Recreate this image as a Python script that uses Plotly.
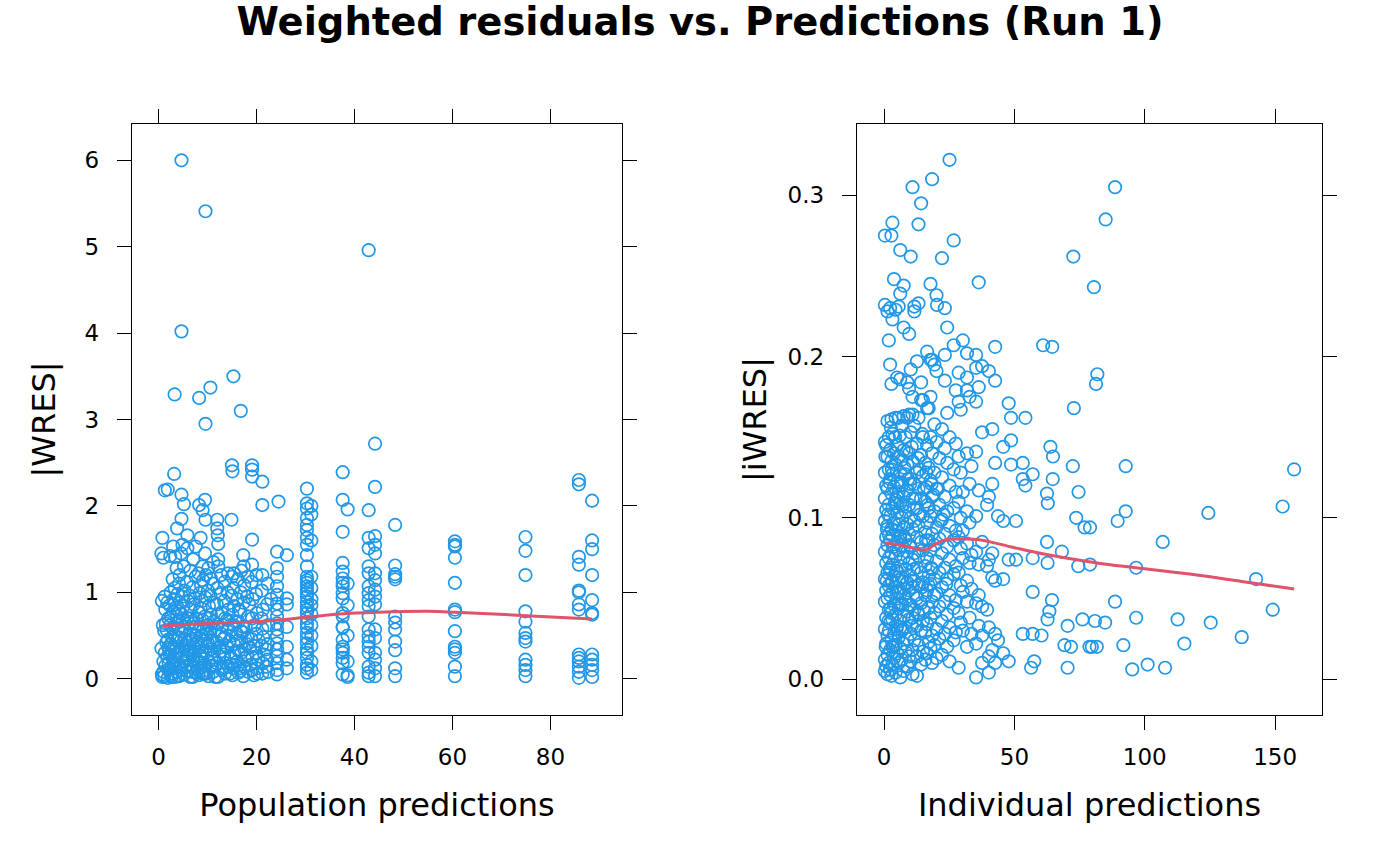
"""Weighted residuals vs. predictions (Run 1) - |WRES| and |iWRES| panels."""

import plotly.graph_objects as go

FONT = "DejaVu Sans"
POINT_COLOR = "#2297E6"
SMOOTH_COLOR = "#DF536B"

# left panel: population predictions vs |WRES|
POP_PRED = [
    0.8, 0.6, 1.0, 0.7, 0.9, 0.6, 1.0, 0.7, 0.8,
    1.3, 1.3, 1.4, 1.2, 1.3, 1.4, 1.2,
    1.9, 1.8, 2.0, 1.9, 1.8, 2.0, 1.9,
    2.4, 2.5, 2.3, 2.4, 2.5, 2.3, 2.4, 2.5,
    3.0, 2.9, 3.1, 3.0, 2.9, 3.1, 3.0, 2.9,
    3.3, 3.2, 3.4, 3.3, 3.4, 3.2, 3.3, 3.4,
    3.8, 3.7, 3.9, 3.8, 3.7, 3.9, 3.8,
    4.3, 4.2, 4.4, 4.3, 4.2, 4.4, 4.3, 4.2,
    4.7, 4.7, 4.7, 4.7, 4.9, 4.6, 4.8, 4.7, 4.6, 4.8, 4.7,
    5.2, 5.2, 5.3, 5.1, 5.2, 5.3, 5.1, 5.2,
    5.9, 5.9, 5.8, 6.0, 5.9, 5.8, 6.0, 5.9,
    6.5, 6.4, 6.6, 6.5, 6.4, 6.6, 6.5,
    7.1, 7.0, 7.2, 7.1, 7.0, 7.2, 7.1,
    7.6, 7.6, 7.5, 7.7, 7.6, 7.5, 7.7,
    8.3, 8.3, 8.2, 8.4, 8.3, 8.2, 8.4, 8.3, 8.2,
    8.6, 8.7, 8.6, 8.7, 8.6, 8.7,
    9.0, 9.0, 9.1, 8.9, 9.0, 9.1, 8.9, 9.0,
    9.6, 9.6, 9.5, 9.6, 9.5, 9.7, 9.6, 9.5, 9.7, 9.6, 9.5,
    10.2, 10.1, 10.3, 10.2, 10.1, 10.3, 10.2,
    10.6, 10.7, 10.6, 10.7, 10.6, 10.7, 10.6,
    11.2, 11.1, 11.3, 11.2, 11.1, 11.3, 11.2,
    12.0, 12.0, 12.1, 12.2, 12.2, 12.2, 12.0, 11.9, 12.1, 12.0, 11.9, 12.1,
    12.8, 12.7, 12.9, 12.8, 12.7, 12.9,
    13.5, 13.4, 13.6, 13.5, 13.4, 13.6,
    14.2, 14.1, 14.3, 14.2, 14.1, 14.3,
    15.0, 15.1, 14.9, 15.0, 14.9, 15.1, 15.0, 14.9, 15.1,
    15.3, 15.4, 15.3, 15.4, 15.3, 15.4, 15.3,
    16.2, 16.1, 16.3, 16.2, 16.1, 16.3,
    16.8, 16.9, 16.8, 16.7, 16.8, 16.9, 16.7,
    17.3, 17.4, 17.5, 17.4, 17.3, 17.5, 17.4, 17.3,
    18.2, 18.1, 18.3, 18.2, 18.1, 18.3,
    19.1, 19.1, 19.1, 19.1, 19.1, 19.0, 19.2, 19.1, 19.0, 19.2, 19.1,
    20.0, 19.9, 20.1, 20.0, 19.9, 20.1,
    21.2, 21.2, 21.2, 21.1, 21.3, 21.2, 21.1, 21.3, 21.2,
    22.3, 22.2, 22.4, 22.3, 22.2, 22.4,
    24.5, 24.2, 24.2, 24.2, 24.2, 24.2, 24.2, 24.2, 24.2, 24.2, 24.2, 24.2,
    24.2, 24.2, 24.2, 24.2, 24.2, 24.2,
    26.2, 26.2, 26.2, 26.2, 26.2, 26.2, 26.2,
    30.3, 30.3, 30.3, 30.3, 30.3, 30.3, 30.3, 30.3, 30.3, 30.3, 30.3,
    30.3, 30.3, 30.3, 30.3, 30.3, 30.3, 30.3, 30.3, 30.3, 30.3, 30.3,
    30.3, 30.3, 30.3, 30.3, 30.3, 30.3, 30.3, 30.3, 30.3, 30.3, 30.3,
    31.2, 31.2, 31.2, 31.2, 31.2, 31.2, 31.2, 31.2, 31.2, 31.2, 31.2, 31.2, 31.2,
    37.6, 37.6, 37.6, 37.6, 37.6, 37.6, 37.6, 37.6, 37.6, 37.6, 37.6,
    37.6, 37.6, 37.6, 37.6, 37.6, 37.6, 37.6, 37.6, 37.6, 37.6,
    38.6, 38.6, 38.6, 38.6, 38.6, 38.6, 38.6,
    42.9, 42.9, 42.9, 42.9, 42.9, 42.9, 42.9, 42.9, 42.9, 42.9,
    42.9, 42.9, 42.9, 42.9, 42.9, 42.9, 42.9, 42.9, 42.9,
    44.2, 44.2, 44.2, 44.2, 44.2, 44.2, 44.2, 44.2,
    44.2, 44.2, 44.2, 44.2, 44.2, 44.2, 44.2, 44.2,
    48.3, 48.3, 48.3, 48.3, 48.3, 48.3, 48.3, 48.3, 48.3, 48.3, 48.3, 48.3,
    60.5, 60.5, 60.5, 60.5, 60.5, 60.5, 60.5, 60.5, 60.5, 60.5, 60.5, 60.5, 60.5,
    74.9, 74.9, 74.9, 74.9, 74.9, 74.9, 74.9, 74.9, 74.9, 74.9, 74.9, 74.9,
    85.8, 85.8, 85.8, 85.8, 85.8, 85.8, 85.8, 85.8, 85.8, 85.8, 85.8, 85.8, 85.8, 85.8,
    88.5, 88.5, 88.5, 88.5, 88.5, 88.5, 88.5, 88.5, 88.5, 88.5, 88.5, 88.5,
    # low-residual core, x 1-23
    1.6, 2.1, 2.6, 3.5, 4.0, 4.5, 5.5, 6.2, 6.8, 7.3, 7.9, 8.8, 9.3, 9.9, 10.4,
    11.0, 11.6, 12.4, 13.1, 13.8, 14.5, 15.5, 16.0, 16.6, 17.0, 17.8, 18.6, 19.5, 20.5, 21.6,
    1.0, 1.7, 2.2, 2.8, 3.6, 4.1, 4.8, 5.4, 6.0, 6.6, 7.2, 7.8, 8.5, 9.2, 9.8,
    10.5, 11.4, 12.2, 13.0, 13.9, 14.8, 15.7, 16.4, 17.2, 18.0, 18.8, 19.6, 20.4, 21.4, 22.0,
    1.5, 2.0, 2.7, 3.4, 4.1, 4.6, 5.0, 5.7, 6.3, 7.0, 7.4, 8.0, 8.8, 9.4, 10.0,
    10.8, 11.6, 12.5, 13.3, 14.0, 14.6, 15.6, 16.4, 17.6, 18.5, 19.4, 20.2, 21.0, 22.0, 23.0,
]
ABS_WRES = [
    1.63, 1.45, 1.40, 0.90, 0.62, 0.35, 0.20, 0.05, 0.02,
    2.18, 0.95, 0.80, 0.55, 0.30, 0.15, 0.03,
    2.19, 0.88, 0.70, 0.45, 0.25, 0.10, 0.01,
    1.42, 1.00, 0.85, 0.62, 0.40, 0.28, 0.12, 0.04,
    1.53, 1.15, 0.92, 0.78, 0.58, 0.35, 0.18, 0.06,
    3.29, 2.37, 1.41, 1.05, 0.82, 0.50, 0.22, 0.02,
    1.74, 1.28, 0.98, 0.72, 0.44, 0.30, 0.08,
    1.20, 1.10, 0.88, 0.66, 0.48, 0.32, 0.14, 0.03,
    6.00, 4.02, 2.13, 1.85, 1.55, 1.45, 0.95, 0.75, 0.55, 0.26, 0.10,
    2.02, 1.30, 1.02, 0.84, 0.60, 0.38, 0.20, 0.05,
    1.66, 1.51, 1.12, 0.90, 0.70, 0.42, 0.24, 0.09,
    1.25, 0.96, 0.80, 0.52, 0.33, 0.16, 0.02,
    1.38, 1.06, 0.86, 0.64, 0.46, 0.27, 0.12,
    1.53, 1.18, 0.93, 0.70, 0.50, 0.31, 0.07,
    3.25, 2.01, 1.22, 0.99, 0.77, 0.56, 0.36, 0.19, 0.04,
    1.63, 1.08, 0.82, 0.60, 0.40, 0.13,
    1.95, 1.30, 1.14, 0.90, 0.68, 0.45, 0.23, 0.06,
    5.41, 2.95, 2.07, 1.84, 1.45, 1.20, 0.94, 0.72, 0.52, 0.30, 0.10,
    1.28, 1.02, 0.84, 0.62, 0.41, 0.20, 0.03,
    3.37, 1.16, 0.96, 0.74, 0.54, 0.34, 0.15,
    1.35, 1.10, 0.88, 0.66, 0.44, 0.25, 0.08,
    1.84, 1.74, 1.66, 1.56, 1.38, 1.30, 1.05, 0.86, 0.63, 0.42, 0.18, 0.02,
    1.20, 0.98, 0.76, 0.52, 0.32, 0.10,
    1.12, 0.90, 0.70, 0.48, 0.28, 0.06,
    1.22, 1.00, 0.80, 0.58, 0.36, 0.14,
    2.47, 2.40, 1.84, 1.18, 0.96, 0.74, 0.50, 0.24, 0.04,
    3.50, 1.22, 1.05, 0.84, 0.62, 0.40, 0.12,
    1.15, 0.92, 0.66, 0.44, 0.20, 0.07,
    3.10, 1.25, 1.00, 0.78, 0.55, 0.30, 0.09,
    1.43, 1.30, 1.08, 0.88, 0.60, 0.34, 0.14, 0.03,
    1.18, 0.95, 0.72, 0.48, 0.26, 0.08,
    2.47, 2.42, 2.34, 1.61, 1.32, 1.12, 0.92, 0.70, 0.46, 0.25, 0.10,
    1.20, 0.98, 0.76, 0.52, 0.30, 0.12,
    2.28, 2.01, 1.20, 1.02, 0.80, 0.58, 0.38, 0.18, 0.06,
    1.10, 0.86, 0.62, 0.40, 0.22, 0.08,
    2.05, 1.47, 1.28, 1.18, 1.07, 0.97, 0.87, 0.80, 0.72, 0.64, 0.57, 0.49,
    0.41, 0.34, 0.26, 0.18, 0.10, 0.05,
    1.43, 0.93, 0.86, 0.60, 0.37, 0.22, 0.12,
    2.20, 2.03, 1.97, 1.86, 1.78, 1.72, 1.63, 1.55, 1.43, 1.30, 1.18,
    1.14, 1.11, 1.07, 1.03, 0.99, 0.95, 0.89, 0.84, 0.80, 0.76, 0.70,
    0.64, 0.59, 0.53, 0.47, 0.41, 0.34, 0.30, 0.24, 0.16, 0.12, 0.07,
    2.00, 1.90, 1.60, 1.18, 1.05, 0.92, 0.85, 0.75, 0.62, 0.50, 0.38, 0.20, 0.10,
    2.39, 2.07, 1.70, 1.34, 1.24, 1.16, 1.11, 1.07, 0.99, 0.93, 0.76,
    0.72, 0.60, 0.59, 0.45, 0.37, 0.34, 0.30, 0.24, 0.18, 0.05,
    1.96, 1.10, 0.85, 0.50, 0.20, 0.04, 0.02,
    4.96, 1.95, 1.63, 1.51, 1.30, 1.22, 1.07, 0.99, 0.91, 0.84,
    0.72, 0.57, 0.49, 0.43, 0.37, 0.30, 0.14, 0.07, 0.03,
    2.72, 2.22, 1.65, 1.55, 1.45, 1.22, 1.14, 1.03,
    0.95, 0.86, 0.57, 0.47, 0.30, 0.22, 0.12, 0.03,
    1.78, 1.31, 1.21, 1.18, 1.15, 0.72, 0.65, 0.57, 0.43, 0.33, 0.12, 0.03,
    1.59, 1.55, 1.53, 1.40, 1.11, 0.80, 0.77, 0.55, 0.37, 0.34, 0.30, 0.14, 0.03,
    1.64, 1.48, 1.20, 0.78, 0.66, 0.53, 0.47, 0.43, 0.22, 0.16, 0.10, 0.03,
    2.30, 2.25, 1.41, 1.32, 1.02, 1.00, 0.86, 0.80, 0.28, 0.24, 0.20, 0.14, 0.08, 0.01,
    2.06, 1.60, 1.50, 1.20, 0.91, 0.76, 0.74, 0.28, 0.22, 0.16, 0.10, 0.02,
    # low-residual core, x 1-23
    0.42, 0.18, 0.72, 0.12, 0.58, 0.24, 0.46, 0.64, 0.08, 0.36, 0.22, 0.50, 0.16, 0.38, 0.70,
    0.14, 0.56, 0.26, 0.62, 0.18, 0.44, 0.30, 0.52, 0.12, 0.42, 0.60, 0.36, 0.04, 0.44, 0.28,
    0.08, 0.56, 0.34, 0.48, 0.64, 0.04, 0.36, 0.14, 0.28, 0.70, 0.20, 0.42, 0.26, 0.58, 0.06,
    0.44, 0.32, 0.74, 0.12, 0.38, 0.16, 0.66, 0.32, 0.54, 0.40, 0.16, 0.62, 0.22, 0.48, 0.34,
    0.64, 0.36, 0.02, 0.28, 0.78, 0.44, 0.68, 0.32, 0.44, 0.02, 0.60, 0.10, 0.32, 0.06, 0.52,
    0.24, 0.02, 0.36, 0.46, 0.68, 0.06, 0.16, 0.80, 0.24, 0.86, 0.38, 0.06, 0.70, 0.14, 0.92,
]
SMOOTH_POP_X = [0.8, 10.0, 20.0, 30.0, 37.0, 45.0, 55.0, 60.5, 75.0, 88.5]
SMOOTH_POP_Y = [0.61, 0.64, 0.66, 0.71, 0.75, 0.77, 0.78, 0.77, 0.73, 0.69]

# right panel: individual predictions vs |iWRES|
IND_PRED = [
    0.3, 0.3, 0.3, 0.3, 0.3, 0.3, 0.3, 0.3, 0.3, 0.3, 0.3, 0.3,
    0.8, 0.8, 0.8, 0.8, 0.8, 0.8, 0.8, 0.8, 0.8,
    1.3, 1.3, 1.3, 1.3, 1.3, 1.3, 1.3, 1.3, 1.3, 1.3, 1.3,
    1.8, 1.8, 1.8, 1.8, 1.8, 1.8, 1.8, 1.8, 1.8, 1.8,
    2.3, 2.3, 2.3, 2.3, 2.3, 2.3, 2.3, 2.3, 2.3, 2.3, 2.3,
    2.8, 2.8, 2.8, 2.8, 2.8, 2.8, 2.8, 2.8, 2.8, 2.8, 2.8,
    3.2, 3.2, 3.2, 3.2, 3.2, 3.2, 3.2, 3.2, 3.2, 3.2, 3.2,
    3.8, 3.8, 3.8, 3.8, 3.8, 3.8, 3.8, 3.8, 3.8,
    4.4, 4.4, 4.4, 4.4, 4.4, 4.4, 4.4, 4.4, 4.4, 4.4,
    5.0, 5.0, 5.0, 5.0, 5.0, 5.0, 5.0, 5.0, 5.0,
    5.6, 5.6, 5.6, 5.6, 5.6, 5.6, 5.6, 5.6, 5.6, 5.6,
    6.2, 6.2, 6.2, 6.2, 6.2, 6.2, 6.2, 6.2, 6.2, 6.2, 6.2,
    6.8, 6.8, 6.8, 6.8, 6.8, 6.8, 6.8, 6.8, 6.8,
    7.5, 7.5, 7.5, 7.5, 7.5, 7.5, 7.5, 7.5, 7.5, 7.5, 7.5,
    8.2, 8.2, 8.2, 8.2, 8.2, 8.2, 8.2, 8.2,
    8.9, 8.9, 8.9, 8.9, 8.9, 8.9, 8.9, 8.9, 8.9, 8.9,
    9.6, 9.6, 9.6, 9.6, 9.6, 9.6, 9.6, 9.6, 9.6, 9.6,
    10.2, 10.2, 10.2, 10.2, 10.2, 10.2, 10.2, 10.2, 10.2, 10.2,
    10.9, 10.9, 10.9, 10.9, 10.9, 10.9, 10.9, 10.9, 10.9, 10.9, 10.9,
    11.6, 11.6, 11.6, 11.6, 11.6, 11.6, 11.6, 11.6, 11.6,
    12.6, 12.6, 12.6, 12.6, 12.6, 12.6, 12.6, 12.6, 12.6, 12.6,
    13.2, 13.2, 13.2, 13.2, 13.2, 13.2, 13.2, 13.2, 13.2,
    14.2, 14.2, 14.2, 14.2, 14.2, 14.2, 14.2, 14.2, 14.2, 14.2,
    14.9, 14.9, 14.9, 14.9, 14.9, 14.9, 14.9, 14.9,
    15.8, 15.8, 15.8, 15.8, 15.8, 15.8, 15.8,
    16.5, 16.5, 16.5, 16.5, 16.5, 16.5, 16.5, 16.5, 16.5,
    17.1, 17.1, 17.1, 17.1, 17.1, 17.1, 17.1,
    17.8, 17.8, 17.8, 17.8, 17.8, 17.8, 17.8, 17.8, 17.8, 17.8,
    18.4, 18.4, 18.4, 18.4, 18.4, 18.4, 18.4, 18.4, 18.4,
    19.3, 19.3, 19.3, 19.3, 19.3, 19.3, 19.3, 19.3,
    20.1, 20.3, 20.1, 20.1, 20.1, 20.1, 20.1, 20.1, 20.1, 20.1,
    21.2, 21.2, 21.2, 21.2, 21.2, 21.2,
    22.2, 22.2, 22.2, 22.2, 22.2, 22.2, 22.2, 22.2,
    23.3, 23.3, 23.3, 23.3, 23.3, 23.3, 23.3, 23.3, 23.3,
    24.2, 24.2, 24.2, 24.2, 24.2, 24.2, 24.2, 24.2,
    25.1, 25.1, 25.1, 25.1, 25.1, 25.1, 25.1, 25.1,
    26.7, 26.7, 26.7, 26.7, 26.7, 26.7, 26.7, 26.7,
    27.5, 27.5, 27.5, 27.5, 27.5, 27.5, 27.5,
    28.6, 28.6, 28.6, 28.6, 28.6, 28.6, 28.6, 28.6,
    29.4, 29.4, 29.4, 29.4, 29.4, 29.4,
    30.2, 30.2, 30.2, 30.2, 30.2, 30.2,
    31.8, 31.8, 31.8, 31.8, 31.8, 31.8, 31.8, 31.8, 31.8,
    32.8, 32.8, 32.8, 32.8, 32.8,
    33.5, 33.5, 33.5, 33.5,
    35.3, 35.3, 35.3, 35.3, 35.3, 35.3, 35.3, 35.3, 35.3,
    36.3, 36.3, 36.3, 36.3, 36.3, 36.3,
    37.6, 37.6, 37.6, 37.6, 37.6, 37.6,
    39.5, 39.5, 39.5,
    40.2, 40.2, 40.2, 40.2, 40.2, 40.2,
    41.5, 41.5, 41.5, 41.5, 41.5,
    42.6, 42.6, 42.6, 42.6, 42.6, 42.6,
    43.7, 43.7,
    45.7, 45.7, 45.7, 45.7,
    47.8, 47.8, 47.8,
    48.7, 48.7, 48.7,
    50.6, 50.6,
    53.2, 53.2, 53.2,
    54.2, 54.2,
    57.0, 57.0, 57.0, 57.0, 57.6, 56.4,
    60.4, 61.0,
    62.5, 62.8, 62.5, 62.7, 63.4, 62.7,
    64.5, 63.8, 64.8, 64.7, 64.4,
    68.2, 69.2,
    70.4, 70.4, 71.7,
    72.6, 72.8, 72.4,
    74.6, 73.7, 74.5,
    76.9, 76.1, 78.8,
    79.0, 79.0, 79.7,
    80.5, 80.9,
    81.8, 81.3, 81.6,
    84.8, 85.0,
    88.6, 88.6, 89.6, 91.8,
    92.7, 92.7, 95.2,
    96.7, 96.7, 101.1,
    106.9, 107.8, 112.6, 115.2,
    124.4, 125.3, 137.2, 142.7,
    149.1, 152.9, 157.3,
    # dense core, x 0-24
    0.5, 1.0, 1.5, 2.0, 2.5, 3.0, 3.5, 4.1, 4.7, 5.3, 5.9, 6.5, 7.1, 7.8, 8.5,
    9.2, 9.9, 10.6, 11.3, 12.0, 12.9, 13.7, 14.5, 15.3, 16.1, 16.8, 18.0, 19.0, 21.6, 23.8,
    0.6, 1.1, 1.6, 2.1, 2.6, 3.1, 3.6, 4.2, 4.8, 5.4, 6.0, 6.6, 7.2, 7.9, 8.6,
    9.3, 10.0, 10.7, 11.4, 12.1, 13.0, 13.8, 14.6, 15.4, 16.2, 17.0, 18.2, 19.2, 20.6, 22.8,
]
ABS_IWRES = [
    0.275, 0.232, 0.147, 0.128, 0.112, 0.098, 0.079, 0.062, 0.048, 0.031, 0.012, 0.005,
    0.145, 0.120, 0.105, 0.088, 0.072, 0.055, 0.038, 0.022, 0.008,
    0.228, 0.160, 0.138, 0.118, 0.095, 0.083, 0.066, 0.050, 0.027, 0.015, 0.003,
    0.210, 0.150, 0.130, 0.108, 0.090, 0.075, 0.058, 0.043, 0.030, 0.010,
    0.230, 0.195, 0.142, 0.124, 0.101, 0.086, 0.069, 0.052, 0.035, 0.018, 0.006,
    0.275, 0.183, 0.161, 0.135, 0.115, 0.093, 0.078, 0.060, 0.041, 0.024, 0.002,
    0.283, 0.223, 0.152, 0.127, 0.106, 0.089, 0.071, 0.054, 0.037, 0.020, 0.009,
    0.248, 0.140, 0.119, 0.097, 0.082, 0.064, 0.046, 0.028, 0.013,
    0.229, 0.162, 0.133, 0.111, 0.092, 0.076, 0.057, 0.040, 0.021, 0.004,
    0.187, 0.145, 0.122, 0.103, 0.085, 0.067, 0.050, 0.033, 0.016,
    0.231, 0.162, 0.138, 0.116, 0.096, 0.080, 0.061, 0.044, 0.026, 0.010,
    0.266, 0.239, 0.186, 0.128, 0.109, 0.088, 0.070, 0.053, 0.036, 0.019, 0.001,
    0.157, 0.136, 0.120, 0.100, 0.083, 0.063, 0.047, 0.030, 0.012,
    0.244, 0.218, 0.163, 0.142, 0.113, 0.094, 0.075, 0.056, 0.039, 0.022, 0.005,
    0.150, 0.127, 0.104, 0.086, 0.068, 0.050, 0.032, 0.017,
    0.184, 0.162, 0.133, 0.117, 0.096, 0.079, 0.060, 0.042, 0.025, 0.008,
    0.214, 0.180, 0.164, 0.140, 0.108, 0.090, 0.072, 0.055, 0.037, 0.014,
    0.262, 0.192, 0.153, 0.124, 0.100, 0.082, 0.064, 0.046, 0.028, 0.011,
    0.305, 0.175, 0.164, 0.135, 0.112, 0.093, 0.074, 0.057, 0.038, 0.018, 0.003,
    0.231, 0.228, 0.157, 0.121, 0.098, 0.078, 0.061, 0.043, 0.024,
    0.197, 0.146, 0.128, 0.106, 0.088, 0.069, 0.050, 0.033, 0.014, 0.002,
    0.282, 0.233, 0.162, 0.118, 0.095, 0.076, 0.058, 0.040, 0.021,
    0.295, 0.184, 0.173, 0.139, 0.112, 0.085, 0.066, 0.047, 0.030, 0.009,
    0.173, 0.150, 0.126, 0.101, 0.080, 0.060, 0.036, 0.017,
    0.134, 0.110, 0.091, 0.070, 0.052, 0.029, 0.012,
    0.203, 0.168, 0.145, 0.119, 0.097, 0.075, 0.055, 0.034, 0.016,
    0.168, 0.131, 0.106, 0.086, 0.064, 0.044, 0.023,
    0.245, 0.198, 0.175, 0.150, 0.123, 0.101, 0.080, 0.059, 0.038, 0.019,
    0.310, 0.198, 0.140, 0.113, 0.090, 0.068, 0.048, 0.027, 0.010,
    0.195, 0.158, 0.128, 0.104, 0.083, 0.062, 0.041, 0.021,
    0.238, 0.232, 0.191, 0.147, 0.118, 0.094, 0.073, 0.053, 0.031, 0.013,
    0.137, 0.108, 0.087, 0.066, 0.045, 0.025,
    0.261, 0.155, 0.125, 0.099, 0.078, 0.057, 0.036, 0.015,
    0.230, 0.201, 0.185, 0.143, 0.113, 0.090, 0.069, 0.048, 0.028,
    0.218, 0.165, 0.134, 0.104, 0.082, 0.062, 0.040, 0.020,
    0.322, 0.150, 0.120, 0.095, 0.074, 0.052, 0.032, 0.011,
    0.272, 0.207, 0.130, 0.106, 0.086, 0.065, 0.044, 0.024,
    0.179, 0.146, 0.116, 0.092, 0.070, 0.049, 0.029,
    0.190, 0.172, 0.138, 0.110, 0.088, 0.066, 0.041, 0.007,
    0.167, 0.128, 0.100, 0.081, 0.058, 0.035,
    0.210, 0.116, 0.092, 0.075, 0.054, 0.030,
    0.202, 0.187, 0.179, 0.140, 0.104, 0.084, 0.061, 0.048, 0.020,
    0.175, 0.121, 0.097, 0.072, 0.038,
    0.132, 0.077, 0.056, 0.028,
    0.201, 0.193, 0.172, 0.141, 0.101, 0.079, 0.047, 0.022, 0.001,
    0.246, 0.181, 0.117, 0.071, 0.052, 0.033,
    0.194, 0.153, 0.085, 0.045, 0.027, 0.010,
    0.108, 0.070, 0.043,
    0.191, 0.113, 0.074, 0.032, 0.014, 0.004,
    0.155, 0.121, 0.078, 0.063, 0.018,
    0.206, 0.185, 0.134, 0.061, 0.028, 0.010,
    0.101, 0.024,
    0.144, 0.098, 0.062, 0.016,
    0.171, 0.074, 0.011,
    0.162, 0.148, 0.133,
    0.098, 0.074,
    0.134, 0.124, 0.028,
    0.162, 0.120,
    0.127, 0.075, 0.054, 0.028, 0.011, 0.007,
    0.027, 0.207,
    0.115, 0.109, 0.085, 0.072, 0.042, 0.037,
    0.206, 0.144, 0.138, 0.124, 0.049,
    0.079, 0.021,
    0.033, 0.007, 0.020,
    0.262, 0.168, 0.132,
    0.116, 0.100, 0.070,
    0.094, 0.037, 0.020,
    0.094, 0.071, 0.020,
    0.243, 0.036,
    0.189, 0.183, 0.020,
    0.035, 0.285,
    0.305, 0.048, 0.098, 0.021,
    0.132, 0.104, 0.006,
    0.069, 0.038, 0.009,
    0.085, 0.007, 0.037, 0.022,
    0.103, 0.035, 0.026, 0.062,
    0.043, 0.107, 0.130,
    # dense core, x 0-24
    0.138, 0.061, 0.102, 0.122, 0.044, 0.130, 0.082, 0.109, 0.067, 0.113, 0.089, 0.046, 0.108, 0.131, 0.059,
    0.124, 0.083, 0.144, 0.068, 0.112, 0.041, 0.130, 0.057, 0.118, 0.086, 0.108, 0.069, 0.114, 0.098, 0.059,
    0.020, 0.093, 0.036, 0.068, 0.156, 0.061, 0.021, 0.150, 0.031, 0.054, 0.151, 0.122, 0.031, 0.088, 0.141,
    0.046, 0.121, 0.033, 0.106, 0.052, 0.137, 0.102, 0.152, 0.042, 0.128, 0.058, 0.121, 0.052, 0.118, 0.102,
]
SMOOTH_IND_X = [0.3, 8.0, 15.8, 20.0, 24.2, 30.0, 37.0, 48.5, 61.3, 81.7, 96.7, 120.0, 142.7, 157.3]
SMOOTH_IND_Y = [0.0845, 0.0825, 0.0800, 0.0840, 0.0866, 0.0868, 0.0862, 0.0820, 0.0775,
                0.0720, 0.0690, 0.0645, 0.0592, 0.0558]

assert len(POP_PRED) == len(ABS_WRES), (len(POP_PRED), len(ABS_WRES))
assert len(IND_PRED) == len(ABS_IWRES), (len(IND_PRED), len(ABS_IWRES))

W, H = 1400, 866


def _px_x(px):
    return px / W


def _px_y(py):
    return 1 - py / H


def _axis(domain, rng, title, **kw):
    return dict(domain=domain, range=rng,
                title=dict(text=title, font=dict(family=FONT, size=32, color="black")),
                showline=True, linecolor="black", linewidth=1.4, mirror="ticks",
                ticks="outside", ticklen=14, tickwidth=1.4, tickcolor="black",
                tickfont=dict(family=FONT, size=23, color="black"),
                showgrid=False, zeroline=False, **kw)


fig = go.Figure()
fig.add_trace(go.Scatter(x=POP_PRED, y=ABS_WRES, mode="markers", xaxis="x", yaxis="y",
                         marker=dict(symbol="circle-open", size=12.5, color=POINT_COLOR, line=dict(width=1.7))))
fig.add_trace(go.Scatter(x=SMOOTH_POP_X, y=SMOOTH_POP_Y, mode="lines", xaxis="x", yaxis="y",
                         line=dict(color=SMOOTH_COLOR, width=3, shape="spline")))
fig.add_trace(go.Scatter(x=IND_PRED, y=ABS_IWRES, mode="markers", xaxis="x2", yaxis="y2",
                         marker=dict(symbol="circle-open", size=12.5, color=POINT_COLOR, line=dict(width=1.7))))
fig.add_trace(go.Scatter(x=SMOOTH_IND_X, y=SMOOTH_IND_Y, mode="lines", xaxis="x2", yaxis="y2",
                         line=dict(color=SMOOTH_COLOR, width=3, shape="spline")))

ydom = [_px_y(715), _px_y(124)]
fig.update_layout(
    width=W, height=H, autosize=False, showlegend=False,
    paper_bgcolor="white", plot_bgcolor="white",
    margin=dict(l=0, r=0, t=0, b=0),
    title=dict(text="Weighted residuals vs. Predictions (Run 1)", x=_px_x(700), xanchor="center",
               y=_px_y(22), yanchor="middle",
               font=dict(family=FONT, size=38.5, color="black", weight="bold")),
    xaxis=_axis([_px_x(132), _px_x(622)], [-5.4, 94.6], "Population predictions",
                tickvals=[0, 20, 40, 60, 80], ticklabelstandoff=7, title_standoff=24),
    yaxis=_axis(ydom, [-0.42, 6.42], "|WRES|", tickvals=[0, 1, 2, 3, 4, 5, 6],
                ticklabelstandoff=13, title_standoff=19),
    xaxis2=_axis([_px_x(857), _px_x(1322)], [-10.4, 168.0], "Individual predictions",
                 tickvals=[0, 50, 100, 150], ticklabelstandoff=7, title_standoff=24, anchor="y2"),
    yaxis2=_axis(ydom, [-0.0223, 0.3442], "|iWRES|", tickvals=[0.0, 0.1, 0.2, 0.3],
                 tickformat=".1f", ticklabelstandoff=13, title_standoff=11, anchor="x2"),
)

# drop the page's default body margin so the figure sits in the window corner
fig.write_html("out.html", config={"displayModeBar": False},
               post_script="document.body.style.margin = '0';")
